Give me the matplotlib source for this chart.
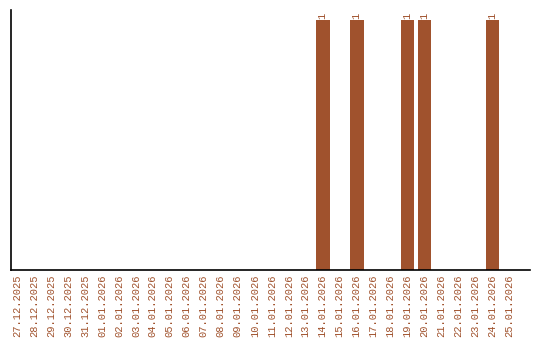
import matplotlib
matplotlib.use("Agg")
import matplotlib.pyplot as plt

# dates shown on the x axis
dates = ["27.12.2025", "28.12.2025", "29.12.2025", "30.12.2025", "31.12.2025",
         "01.01.2026", "02.01.2026", "03.01.2026", "04.01.2026", "05.01.2026",
         "06.01.2026", "07.01.2026", "08.01.2026", "09.01.2026", "10.01.2026",
         "11.01.2026", "12.01.2026", "13.01.2026", "14.01.2026", "15.01.2026",
         "16.01.2026", "17.01.2026", "18.01.2026", "19.01.2026", "20.01.2026",
         "21.01.2026", "22.01.2026", "23.01.2026", "24.01.2026", "25.01.2026"]
counts = [0, 0, 0, 0, 0, 0, 0, 0, 0, 0,
          0, 0, 0, 0, 0, 0, 0, 0, 1, 0,
          1, 0, 0, 1, 1, 0, 0, 0, 1, 0]

color = "#a0522d"
plt.rcParams['font.family'] = ['Liberation Mono', 'DejaVu Sans Mono']

fig = plt.figure(figsize=(5.4, 3.4), dpi=100)
ax = fig.add_axes([0.0204, 0.2059, 0.9611, 0.7647])

x = list(range(len(dates)))
ax.bar(x, counts, width=0.8, color=color)
for i, c in enumerate(counts):
    if c > 0:
        ax.text(i, c + 0.005, str(c), rotation=90, ha="center", va="bottom",
                fontsize=7.5, color=color)

ax.set_xlim(-0.35, 30.2)
ax.set_ylim(0, 1.04)
ax.set_xticks(x)
ax.set_xticklabels(dates, rotation=90, fontsize=7.5, color=color)
ax.tick_params(axis="x", length=0, pad=3)
ax.set_yticks([])
ax.spines["top"].set_visible(False)
ax.spines["right"].set_visible(False)
ax.spines["left"].set_linewidth(1.2)
ax.spines["bottom"].set_linewidth(1.2)

fig.savefig("out.png", dpi=100)
